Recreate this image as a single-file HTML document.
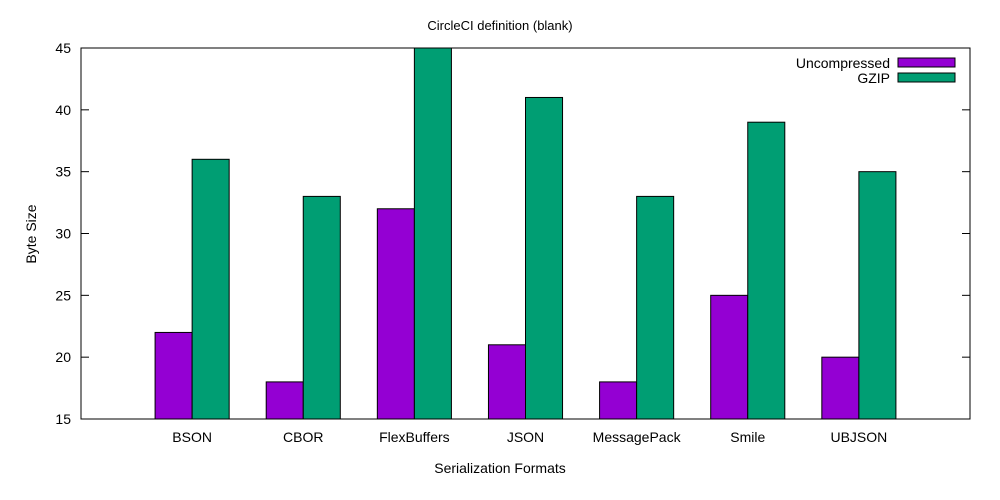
<!DOCTYPE html>
<html><head><meta charset="utf-8"><style>
body{margin:0;background:#fff;}
svg{display:block;font-family:"Liberation Sans",Arial,sans-serif;}
</style></head><body>
<svg id="chart" width="1000" height="500" viewBox="0 0 1000 500">
<text x="500" y="30" text-anchor="middle" font-size="13">CircleCI definition (blank)</text>
<text x="500" y="473" text-anchor="middle" font-size="14">Serialization Formats</text>
<text transform="translate(36,234) rotate(-90)" text-anchor="middle" font-size="14">Byte Size</text>
<g id="ticks"></g>
<g id="bars"></g>
<rect x="81" y="48" width="889" height="371" fill="none" stroke="#000" stroke-width="1"/>
<g>
<text x="890" y="68" text-anchor="end" font-size="14">Uncompressed</text>
<rect x="898" y="58" width="57" height="9" fill="#9400d3" stroke="#000"/>
<text x="890" y="83" text-anchor="end" font-size="14">GZIP</text>
<rect x="898" y="73" width="57" height="9" fill="#009e73" stroke="#000"/>
</g>
</svg>
<script>
const categories=["BSON","CBOR","FlexBuffers","JSON","MessagePack","Smile","UBJSON"];
const uncompressed=[22,18,32,21,18,25,20];
const gzip=[36,33,45,41,33,39,35];
const yTicks=[15,20,25,30,35,40,45];
const NS="http://www.w3.org/2000/svg";
const L=81,R=970,T=48,B=419,yMin=15,yMax=45,xMin=-1,xMax=7,bw=1/3;
const xs=v=>L+(v-xMin)/(xMax-xMin)*(R-L);
const ys=v=>B-(v-yMin)/(yMax-yMin)*(B-T);
function mk(tag,a){const e=document.createElementNS(NS,tag);for(const k in a)e.setAttribute(k,a[k]);return e;}
const tg=document.getElementById('ticks'),bg=document.getElementById('bars');
yTicks.forEach(t=>{
 const y=ys(t);
 const l1=mk('line',{x1:L,x2:L+8,y1:y,y2:y,stroke:'#000'});
 
 
 tg.appendChild(l1);
 const l2=mk('line',{x1:R-8,x2:R,y1:y,y2:y,stroke:'#000'});
 
 
 tg.appendChild(l2);
 const tx=mk('text',{x:L-10,y:y+5,'text-anchor':'end','font-size':14});
 tx.textContent=t;
 
 
 tg.appendChild(tx);
});
categories.forEach((c,i)=>{
 const cx=xs(i);
 const t1=mk('line',{x1:cx,x2:cx,y1:B,y2:B-8,stroke:'#000'});
 
 
 tg.appendChild(t1);
 const tx=mk('text',{x:cx,y:B+23,'text-anchor':'middle','font-size':14});
 tx.textContent=c;
 
 
 tg.appendChild(tx);
 const w=xs(bw)-xs(0);
 const r1=mk('rect',{x:xs(i-bw),y:ys(uncompressed[i]),width:w,height:B-ys(uncompressed[i]),fill:'#9400d3',stroke:'#000'});
 
 
 bg.appendChild(r1);
 const r2=mk('rect',{x:xs(i),y:ys(gzip[i]),width:w,height:B-ys(gzip[i]),fill:'#009e73',stroke:'#000'});
 
 
 bg.appendChild(r2);
});
</script>
</body></html>
